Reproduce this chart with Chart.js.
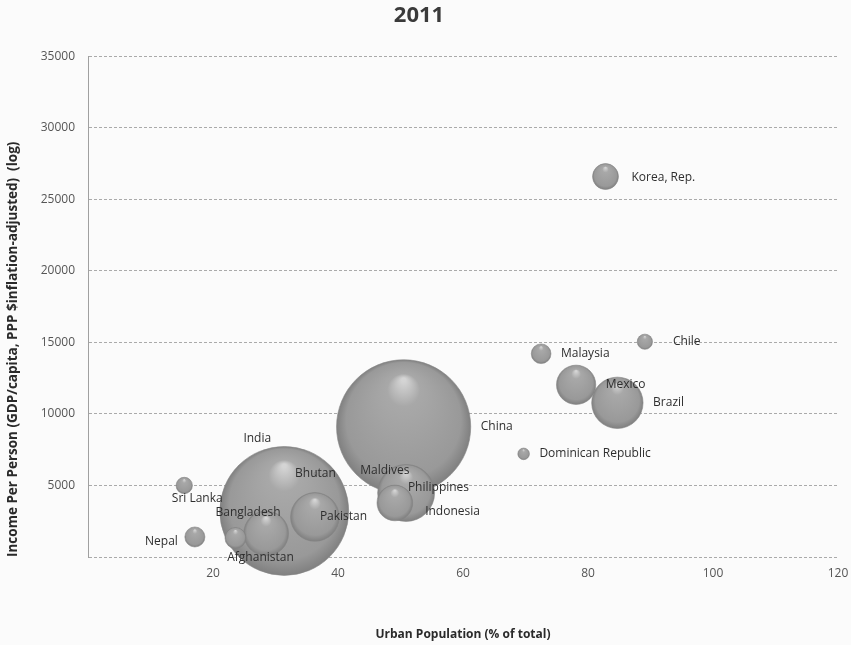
<!DOCTYPE html>
<html>
<head>
<meta charset="utf-8">
<title>2011 - Urban Population vs Income Per Person</title>
<script src="https://cdn.jsdelivr.net/npm/chart.js@4.4.1/dist/chart.umd.min.js"></script>
<style>
  html, body { margin: 0; padding: 0; background: #fbfbfb; }
  #wrap { width: 851px; height: 645px; }
</style>
</head>
<body>
<div id="wrap"><canvas id="bubbleChart" width="851" height="645"></canvas></div>
<script>
// Data
const countries = ['Korea, Rep.', 'Chile', 'Malaysia', 'Mexico', 'Brazil', 'China', 'Dominican Republic',
  'India', 'Bhutan', 'Maldives', 'Indonesia', 'Philippines', 'Pakistan', 'Bangladesh', 'Afghanistan', 'Nepal', 'Sri Lanka'];
const urbanPct = [82.8, 89.1, 72.5, 78.1, 84.7, 50.5, 69.7, 31.4, 36.4, 47.5, 50.9, 49.1, 36.3, 28.5, 23.6, 17.1, 15.4];
const incomePerPerson = [26600, 15050, 14210, 12040, 10780, 9100, 7210, 3220, 5810, 6020, 4480, 3780, 2800, 1650, 1330, 1400, 5000];
const populationM = [50, 17.3, 28.9, 115, 197, 1344, 10, 1241, 0.74, 0.33, 242, 95, 177, 150, 33, 30, 20];

const xTicks = [0, 20, 40, 60, 80, 100, 120];
const yTicks = [0, 5000, 10000, 15000, 20000, 25000, 30000, 35000];

// bubble area follows population
const bubbleScale = 1.83;

// label placement; anything not listed sits to the right of its bubble
const labelPlace = {
  'India': { dx: -27, dy: -72, align: 'center' },
  'Bhutan': { dx: 0, dy: 0, align: 'center' },
  'Maldives': { dx: 0, dy: 0, align: 'center' },
  'Philippines': { dx: 13, dy: -15, align: 'left' },
  'Indonesia': { dx: 19, dy: 19, align: 'left' },
  'Pakistan': { dx: 5, dy: 0, align: 'left' },
  'Bangladesh': { dx: -18, dy: -21, align: 'center' },
  'Afghanistan': { dx: 25, dy: 20, align: 'center' },
  'Nepal': { dx: -17, dy: 5, align: 'right' },
  'Sri Lanka': { dx: 13, dy: 13, align: 'center' },
  'Korea, Rep.': { dx: 26, dy: 1, align: 'left' },
  'Chile': { dx: 28, dy: 0, align: 'left' }
};

const FONT = '"Open Sans", "Noto Sans", "DejaVu Sans", sans-serif';

// biggest bubbles first so the small ones stay on top
const points = countries.map((name, i) => ({
  x: urbanPct[i],
  y: incomePerPerson[i],
  r: bubbleScale * Math.sqrt(populationM[i]),
  name: name
})).sort((a, b) => b.r - a.r);

// grey glossy fill, highlight near the top like the Excel bubbles
function bubbleFill(ctx) {
  const chart = ctx.chart;
  if (!chart.chartArea || !ctx.raw) return '#999999';
  const x = chart.scales.x.getPixelForValue(ctx.raw.x);
  const y = chart.scales.y.getPixelForValue(ctx.raw.y);
  const r = Math.max(ctx.raw.r, 1);
  const g = chart.ctx.createRadialGradient(x, y - r * 0.7, r * 0.03, x, y, r);
  g.addColorStop(0, '#d4d4d4');
  g.addColorStop(0.22, '#a8a8a8');
  g.addColorStop(0.85, '#999999');
  g.addColorStop(1, '#808080');
  return g;
}

const bubbleLabels = {
  id: 'bubbleLabels',
  afterDatasetsDraw(chart) {
    const c = chart.ctx;
    const meta = chart.getDatasetMeta(0);
    c.save();
    c.font = '12px ' + FONT;
    c.fillStyle = '#2e2e2e';
    c.textBaseline = 'middle';
    meta.data.forEach((el, i) => {
      const p = points[i];
      const place = labelPlace[p.name] || { dx: p.r + 10, dy: 0, align: 'left' };
      c.textAlign = place.align;
      c.fillText(p.name, el.x + place.dx, el.y + place.dy);
    });
    c.restore();
  }
};

const chart = new Chart(document.getElementById('bubbleChart'), {
  type: 'bubble',
  data: {
    datasets: [{
      data: points,
      backgroundColor: bubbleFill,
      borderColor: '#858585',
      borderWidth: 0.6,
      clip: false
    }]
  },
  options: {
    responsive: false,
    animation: false,
    events: [],
    layout: { autoPadding: false, padding: { left: 0, right: 13, top: 0, bottom: 0 } },
    plugins: {
      legend: { display: false },
      tooltip: { enabled: false },
      title: {
        display: true,
        text: '2011',
        color: '#3a3a3a',
        font: { family: FONT, size: 22, weight: 'bold' },
        padding: { top: 3, bottom: 27 }
      }
    },
    scales: {
      x: {
        type: 'linear',
        min: xTicks[0],
        max: xTicks[xTicks.length - 1],
        afterBuildTicks: s => { s.ticks = xTicks.map(v => ({ value: v })); },
        afterFit: s => { s.height = 88; s.paddingLeft = 0; s.paddingRight = 0; },
        grid: { display: false, drawTicks: false },
        border: { display: false },
        ticks: {
          padding: 9,
          color: '#555555',
          font: { family: FONT, size: 12 },
          callback: v => v === 0 ? '' : String(v)
        },
        title: {
          display: true,
          text: 'Urban Population (% of total)',
          color: '#2a2a2a',
          font: { family: FONT, size: 12, weight: 'bold' },
          padding: { top: 0, bottom: 3 }
        }
      },
      y: {
        type: 'linear',
        min: yTicks[0],
        max: yTicks[yTicks.length - 1],
        afterBuildTicks: s => { s.ticks = yTicks.map(v => ({ value: v })); },
        afterFit: s => { s.width = 88; s.paddingTop = 0; s.paddingBottom = 0; },
        grid: { color: '#aaaaaa', drawTicks: false },
        border: { display: true, color: '#a0a0a0', dash: [3, 2] },
        ticks: {
          padding: 13,
          color: '#555555',
          font: { family: FONT, size: 12 },
          callback: v => v === 0 ? '' : String(v)
        },
        title: {
          display: true,
          text: 'Income Per Person (GDP/capita, PPP $inflation-adjusted)  (log)',
          align: 'start',
          color: '#2a2a2a',
          font: { family: FONT, size: 13.5, weight: 'bold' },
          padding: { top: 5, bottom: 0 }
        }
      }
    }
  },
  plugins: [bubbleLabels]
});
</script>
</body>
</html>
